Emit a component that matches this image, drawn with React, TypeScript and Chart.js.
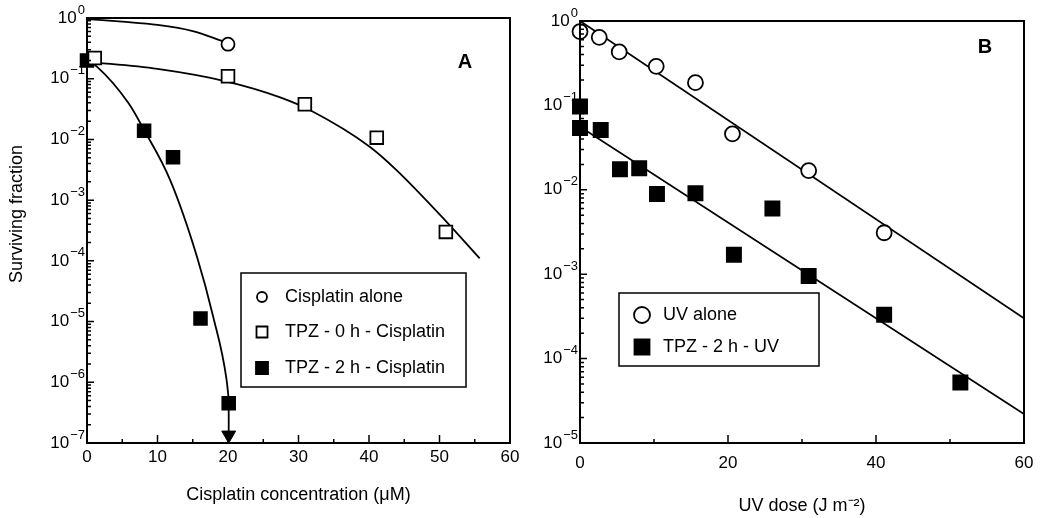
import React, { useEffect, useRef } from 'react';
import { Chart, registerables } from 'chart.js';

Chart.register(...registerables);

const FONT = "'Liberation Sans', Arial, Helvetica, sans-serif";

// ---------------- Panel A : cisplatin ----------------
const aXTicks = [0, 10, 20, 30, 40, 50, 60];
const aXMinorTicks = [5, 15, 25, 35, 45, 55];
const aYTicks = [1e-7, 1e-6, 1e-5, 1e-4, 1e-3, 1e-2, 1e-1, 1];

const cisAloneX = [20];
const cisAloneY = [0.37];
const tpz0hX = [1.1, 20, 30.9, 41.1, 50.9];
const tpz0hY = [0.22, 0.11, 0.038, 0.0107, 0.0003];
const tpz2hX = [0, 8.1, 12.2, 16.1, 20.1];
const tpz2hY = [0.2, 0.0139, 0.0051, 1.12e-5, 4.5e-7];

const cisAloneFitX = [0, 5, 10, 15, 19.4];
const cisAloneFitY = [0.96, 0.87, 0.77, 0.61, 0.41];
const tpz0hFitX = [0, 10, 20, 27.4, 31.6, 40.1, 43.9, 51.0, 55.7];
const tpz0hFitY = [0.19, 0.145, 0.089, 0.0494, 0.0305, 0.0076, 0.00313, 0.00044, 0.00011];
const tpz2hFitX = [0, 1.4, 5.9, 8.1, 11.8, 15.6, 17.9, 19.8, 20.2];
const tpz2hFitY = [0.2, 0.158, 0.0393, 0.0143, 0.00214, 1.17e-4, 1.2e-5, 1.1e-6, 4e-7];
const arrowX = [20.1, 20.1];
const arrowY = [4.5e-7, 1.35e-7];

// ---------------- Panel B : UV ----------------
const bXTicks = [0, 20, 40, 60];
const bXMinorTicks = [10, 30, 50];
const bYTicks = [1e-5, 1e-4, 1e-3, 1e-2, 1e-1, 1];

const uvAloneX = [0, 2.6, 5.3, 10.3, 15.6, 20.6, 30.9, 41.1];
const uvAloneY = [0.75, 0.64, 0.43, 0.29, 0.186, 0.046, 0.0169, 0.0031];
const tpzUvX = [0, 0, 2.8, 5.4, 8.0, 10.4, 15.6, 20.8, 26.0, 30.9, 41.1, 51.4];
const tpzUvY = [0.097, 0.054, 0.051, 0.0175, 0.018, 0.0089, 0.0091, 0.0017, 0.006, 0.00095, 0.00033, 0.000052];
const uvAloneFitX = [0, 60];
const uvAloneFitY = [1.0, 3.0e-4];
const tpzUvFitX = [0, 60];
const tpzUvFitY = [0.056, 2.2e-5];

const pts = (xs: number[], ys: number[]) => xs.map((x, i) => ({ x, y: ys[i] }));

const framePlugin = {
  id: 'frame',
  afterDraw(chart: any, _a: any, o: any) {
    const ctx = chart.ctx as CanvasRenderingContext2D;
    const { left, right, top, bottom } = chart.chartArea;
    const xs = chart.scales.x;
    const ys = chart.scales.y;
    ctx.save();
    ctx.strokeStyle = '#000';
    ctx.lineWidth = 2;
    ctx.strokeRect(left, top, right - left, bottom - top);
    ctx.lineWidth = 1.5;
    ctx.beginPath();
    for (const v of o.xMajor) {
      const px = xs.getPixelForValue(v);
      ctx.moveTo(px, bottom);
      ctx.lineTo(px, bottom - 8);
    }
    for (const v of o.xMinor) {
      const px = xs.getPixelForValue(v);
      ctx.moveTo(px, bottom);
      ctx.lineTo(px, bottom - 4);
    }
    const e0 = Math.round(Math.log10(ys.min));
    const e1 = Math.round(Math.log10(ys.max));
    for (let e = e0; e <= e1; e++) {
      const py = ys.getPixelForValue(Math.pow(10, e));
      ctx.moveTo(left, py);
      ctx.lineTo(left + 7, py);
      if (e < e1) {
        for (let k = 2; k <= 9; k++) {
          const p = ys.getPixelForValue(k * Math.pow(10, e));
          ctx.moveTo(left, p);
          ctx.lineTo(left + 4, p);
        }
      }
    }
    ctx.stroke();

    // decade tick labels: 10 with superscript exponent
    ctx.fillStyle = '#000';
    ctx.textBaseline = 'middle';
    ctx.textAlign = 'left';
    for (const t of o.yTicks as number[]) {
      const e = Math.round(Math.log10(t));
      const py = ys.getPixelForValue(t);
      const expText = e < 0 ? '\u2212' + String(-e) : String(e);
      ctx.font = `13px ${FONT}`;
      const ew = ctx.measureText(expText).width;
      ctx.font = `17px ${FONT}`;
      const bw = ctx.measureText('10').width;
      const xEnd = left - 2;
      ctx.fillText('10', xEnd - ew - bw - 1, py);
      ctx.font = `13px ${FONT}`;
      ctx.fillText(expText, xEnd - ew, py - 8);
    }

    if (o.yTitle) {
      ctx.save();
      ctx.translate(o.yTitle.x, o.yTitle.y);
      ctx.rotate(-Math.PI / 2);
      ctx.font = `18px ${FONT}`;
      ctx.textAlign = 'center';
      ctx.fillText(o.yTitle.text, 0, 0);
      ctx.restore();
    }

    ctx.font = `bold 20px ${FONT}`;
    ctx.textAlign = 'center';
    ctx.fillText(o.label, right - o.labelDx, top + o.labelDy);

    const L = o.legend;
    const bx = left + L.dx;
    const by = top + L.dy;
    ctx.fillStyle = '#fff';
    ctx.fillRect(bx, by, L.w, L.h);
    ctx.lineWidth = 1.5;
    ctx.strokeRect(bx, by, L.w, L.h);
    ctx.font = `18px ${FONT}`;
    ctx.textAlign = 'left';
    L.items.forEach((it: any, i: number) => {
      const ds = chart.data.datasets[it.ds];
      const cy = by + L.rowY[i];
      const cx = bx + L.markerDx;
      ctx.beginPath();
      if (it.shape === 'circle') ctx.arc(cx, cy, it.size, 0, 2 * Math.PI);
      else ctx.rect(cx - it.size, cy - it.size, 2 * it.size, 2 * it.size);
      ctx.fillStyle = it.filled ? '#000' : '#fff';
      ctx.fill();
      ctx.lineWidth = 1.8;
      ctx.stroke();
      ctx.fillStyle = '#000';
      ctx.fillText(ds.label, bx + L.textDx, cy);
    });
    ctx.restore();
  },
};

const markerSet = (label: string, data: any[], style: string, filled: boolean, r: number, order: number) => ({
  label,
  data,
  showLine: false,
  pointStyle: style,
  pointRadius: r,
  pointBackgroundColor: filled ? '#000' : '#fff',
  pointBorderColor: '#000',
  pointBorderWidth: 1.8,
  clip: false,
  order,
});

const fitSet = (data: any[], curved: boolean) => ({
  label: 'fit',
  data,
  showLine: true,
  pointRadius: 0,
  borderColor: '#000',
  borderWidth: 1.8,
  tension: curved ? 0.4 : 0,
  cubicInterpolationMode: curved ? 'monotone' : 'default',
  order: 20,
});

const yAxis = (ticks: number[], width: number) => ({
  type: 'logarithmic',
  min: ticks[0],
  max: ticks[ticks.length - 1],
  afterBuildTicks: (s: any) => {
    s.ticks = ticks.map((v) => ({ value: v }));
  },
  afterFit: (s: any) => {
    s.width = width;
  },
  grid: { display: false, drawTicks: false },
  border: { display: false },
  ticks: { display: false },
  title: { display: false },
});

const xAxis = (ticks: number[], title: string, labelPad: number, titlePad: number) => ({
  type: 'linear',
  min: ticks[0],
  max: ticks[ticks.length - 1],
  afterBuildTicks: (s: any) => {
    s.ticks = ticks.map((v) => ({ value: v }));
  },
  afterFit: (s: any) => {
    s.height = 75;
  },
  grid: { display: false, drawTicks: false },
  border: { display: false },
  ticks: {
    autoSkip: false,
    maxRotation: 0,
    font: { family: FONT, size: 17 },
    color: '#000',
    padding: labelPad,
  },
  title: {
    display: true,
    text: title,
    font: { family: FONT, size: 18 },
    color: '#000',
    padding: { top: 0, bottom: titlePad },
  },
});

function configA(): any {
  return {
    type: 'scatter',
    data: {
      datasets: [
        markerSet('Cisplatin alone', pts(cisAloneX, cisAloneY), 'circle', false, 6.5, 2),
        markerSet('TPZ - 0 h - Cisplatin', pts(tpz0hX, tpz0hY), 'rect', false, 9, 0),
        markerSet('TPZ - 2 h - Cisplatin', pts(tpz2hX, tpz2hY), 'rect', true, 9, 1),
        fitSet(pts(cisAloneFitX, cisAloneFitY), true),
        fitSet(pts(tpz0hFitX, tpz0hFitY), true),
        fitSet(pts(tpz2hFitX, tpz2hFitY), true),
        {
          label: 'arrow',
          data: pts(arrowX, arrowY),
          showLine: true,
          borderColor: '#000',
          borderWidth: 1.8,
          pointStyle: 'triangle',
          rotation: 180,
          pointRadius: [0, 8],
          pointBackgroundColor: '#000',
          pointBorderColor: '#000',
          pointBorderWidth: 1,
          clip: false,
          order: 15,
        },
      ],
    },
    options: {
      animation: false,
      responsive: false,
      devicePixelRatio: 1,
      layout: { padding: { left: 0, top: 18, right: 17, bottom: 0 } },
      plugins: {
        legend: { display: false },
        tooltip: { enabled: false },
        frame: {
          xMajor: aXTicks,
          xMinor: aXMinorTicks,
          yTicks: aYTicks,
          yTitle: { text: 'Surviving fraction', x: 17, y: 214 },
          label: 'A',
          labelDx: 45,
          labelDy: 44,
          legend: {
            dx: 154, dy: 255, w: 225, h: 114,
            rowY: [24, 59, 95], markerDx: 21, textDx: 44,
            items: [
              { ds: 0, shape: 'circle', filled: false, size: 5 },
              { ds: 1, shape: 'rect', filled: false, size: 5.5 },
              { ds: 2, shape: 'rect', filled: true, size: 6 },
            ],
          },
        },
      },
      scales: {
        x: xAxis(aXTicks, 'Cisplatin concentration (\u03BCM)', 4, 12),
        y: yAxis(aYTicks, 87),
      },
    },
    plugins: [framePlugin],
  };
}

function configB(): any {
  return {
    type: 'scatter',
    data: {
      datasets: [
        markerSet('UV alone', pts(uvAloneX, uvAloneY), 'circle', false, 7.5, 0),
        markerSet('TPZ - 2 h - UV', pts(tpzUvX, tpzUvY), 'rect', true, 10, 1),
        fitSet(pts(uvAloneFitX, uvAloneFitY), false),
        fitSet(pts(tpzUvFitX, tpzUvFitY), false),
      ],
    },
    options: {
      animation: false,
      responsive: false,
      devicePixelRatio: 1,
      layout: { padding: { left: 0, top: 21, right: 30, bottom: 0 } },
      plugins: {
        legend: { display: false },
        tooltip: { enabled: false },
        frame: {
          xMajor: bXTicks,
          xMinor: bXMinorTicks,
          yTicks: bYTicks,
          yTitle: null,
          label: 'B',
          labelDx: 39,
          labelDy: 26,
          legend: {
            dx: 39, dy: 272, w: 200, h: 73,
            rowY: [22, 54], markerDx: 23, textDx: 44,
            items: [
              { ds: 0, shape: 'circle', filled: false, size: 8 },
              { ds: 1, shape: 'rect', filled: true, size: 7.5 },
            ],
          },
        },
      },
      scales: {
        x: xAxis(bXTicks, 'UV dose (J m\u207B\u00B2)', 10, 1),
        y: yAxis(bYTicks, 53),
      },
    },
    plugins: [framePlugin],
  };
}

export default function App() {
  const refA = useRef<HTMLCanvasElement | null>(null);
  const refB = useRef<HTMLCanvasElement | null>(null);

  useEffect(() => {
    const ca = new Chart(refA.current as HTMLCanvasElement, configA());
    const cb = new Chart(refB.current as HTMLCanvasElement, configB());
    return () => {
      ca.destroy();
      cb.destroy();
    };
  }, []);

  return (
    <div style={{ position: 'fixed', left: 0, top: 0, width: 1054, height: 518, background: '#fff' }}>
      <canvas ref={refA} width={527} height={518} style={{ position: 'absolute', left: 0, top: 0, width: 527, height: 518 }} />
      <canvas ref={refB} width={527} height={518} style={{ position: 'absolute', left: 527, top: 0, width: 527, height: 518 }} />
    </div>
  );
}
